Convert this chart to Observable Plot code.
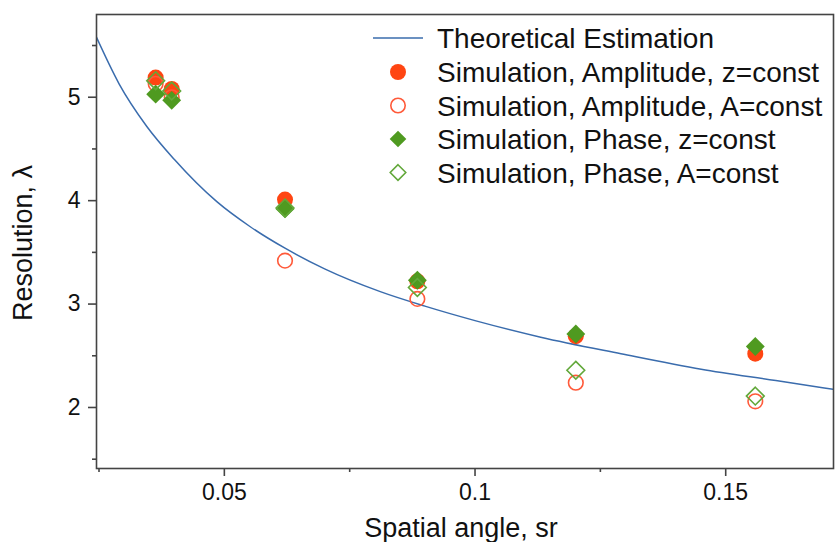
<!DOCTYPE html>
<html>
<head>
<meta charset="utf-8">
<script src="https://cdn.jsdelivr.net/npm/d3@7"></script>
<script src="https://cdn.jsdelivr.net/npm/@observablehq/plot@0.6"></script>
<style>
  html, body { margin: 0; padding: 0; background: #fff; }
  #chart { width: 835px; height: 542px; }
</style>
</head>
<body>
<div id="chart"></div>
<script>
// ---- data ----
const angles = [0.0363, 0.0395, 0.0621, 0.0885, 0.1201, 0.1559];
const ampZ   = [5.19, 5.08, 4.01, 3.22, 2.69, 2.52];
const ampA   = [5.13, 5.00, 3.42, 3.05, 2.24, 2.06];
const phaseZ = [5.03, 4.97, 3.92, 3.23, 2.71, 2.59];
const phaseA = [5.16, 5.06, 3.93, 3.16, 2.36, 2.11];

const theoryX = [0.0243, 0.0290, 0.0345, 0.0400, 0.0485, 0.0551, 0.0621, 0.0700, 0.0811, 0.0900, 0.1000, 0.1131, 0.1291, 0.1451, 0.1600, 0.1721];
const theoryY = [5.60, 5.13, 4.72, 4.40, 3.99, 3.75, 3.54, 3.34, 3.12, 2.98, 2.84, 2.68, 2.52, 2.37, 2.26, 2.17];

const xTicks = [0.05, 0.1, 0.15];
const xTickLabels = ["0.05", "0.1", "0.15"];
const xMinorTicks = [0.025, 0.075, 0.125];
const yTicks = [2, 3, 4, 5];
const yTickLabels = ["2", "3", "4", "5"];
const yMinorTicks = [1.5, 2.5, 3.5, 4.5, 5.5];

const xTitle = "Spatial angle, sr";
const yTitle = "Resolution, λ";
const seriesNames = [
  "Theoretical Estimation",
  "Simulation, Amplitude, z=const",
  "Simulation, Amplitude, A=const",
  "Simulation, Phase, z=const",
  "Simulation, Phase, A=const"
];

// ---- styles ----
const RED = "#ff4512", RED_OPEN = "#ff5a3a", GREEN = "#4f9a20", GREEN_OPEN = "#62a83a", BLUE = "#3a6cad", AXIS = "#444";
const FONT = "'Liberation Sans', Arial, sans-serif";

const pts = (ys) => angles.map((x, i) => ({x, y: ys[i]}));
const theory = theoryX.map((x, i) => ({x, y: theoryY[i]}));

const chart = Plot.plot({
  width: 835,
  height: 542,
  marginLeft: 96,
  marginRight: 2,
  marginTop: 14,
  marginBottom: 74,
  style: {fontFamily: FONT, fontSize: "23px", color: "#111", background: "#fff"},
  x: {domain: [0.0245, 0.1715]},
  y: {domain: [1.41, 5.8]},
  marks: [
    Plot.axisX({ticks: xTicks, tickSize: 8, tickPadding: 7, tickFormat: (d, i) => xTickLabels[i], label: null, stroke: AXIS, strokeWidth: 1.6, fontSize: 23}),
    Plot.axisX({ticks: xMinorTicks, tickSize: 4, tickFormat: null, text: null, label: null, stroke: AXIS, strokeWidth: 1.6}),
    Plot.axisY({ticks: yTicks, tickSize: 8, tickPadding: 8, tickFormat: (d, i) => yTickLabels[i], label: null, stroke: AXIS, strokeWidth: 1.6, fontSize: 23}),
    Plot.axisY({ticks: yMinorTicks, tickSize: 4, tickFormat: null, text: null, label: null, stroke: AXIS, strokeWidth: 1.6}),
    Plot.line(theory, {x: "x", y: "y", stroke: BLUE, strokeWidth: 1.5, curve: "monotone-x", clip: true}),
    Plot.dot(pts(ampZ), {x: "x", y: "y", symbol: "circle", r: 8, fill: RED, stroke: "none"}),
    Plot.dot(pts(ampA), {x: "x", y: "y", symbol: "circle", r: 7.3, fill: "none", stroke: RED_OPEN, strokeWidth: 1.6}),
    Plot.dot(pts(phaseZ), {x: "x", y: "y", symbol: "diamond2", r: 8.5, fill: GREEN, stroke: "none"}),
    Plot.dot(pts(phaseA), {x: "x", y: "y", symbol: "diamond2", r: 8, fill: "none", stroke: GREEN_OPEN, strokeWidth: 1.6}),
    Plot.frame({stroke: AXIS, strokeWidth: 1.6})
  ]
});

document.getElementById("chart").appendChild(chart);

// ---- axis titles and legend ----
const svg = d3.select(chart);
svg.append("text")
  .attr("x", 461).attr("y", 537)
  .attr("text-anchor", "middle")
  .style("font-family", FONT).style("font-size", "27px").attr("fill", "#111")
  .text(xTitle);
svg.append("text")
  .attr("transform", "translate(32,243) rotate(-90)")
  .attr("text-anchor", "middle")
  .style("font-family", FONT).style("font-size", "27px").attr("fill", "#111")
  .text(yTitle);

const lg = svg.append("g").style("font-family", FONT).style("font-size", "28px").attr("text-anchor", "start");
const rowY = [38, 72, 105.5, 139, 172.5];
const mx = 398;
lg.append("line").attr("x1", 373).attr("x2", 423).attr("y1", rowY[0]).attr("y2", rowY[0])
  .attr("stroke", BLUE).attr("stroke-width", 1.5);
const sym = (type, r) => d3.symbol(type, Math.PI * r * r)();
lg.append("path").attr("d", sym(d3.symbolCircle, 8)).attr("transform", `translate(${mx},${rowY[1]})`).attr("fill", RED);
lg.append("path").attr("d", sym(d3.symbolCircle, 7.2)).attr("transform", `translate(${mx},${rowY[2]})`).attr("fill", "none").attr("stroke", RED_OPEN).attr("stroke-width", 1.6);
lg.append("path").attr("d", sym(d3.symbolDiamond2, 7.5)).attr("transform", `translate(${mx},${rowY[3]})`).attr("fill", GREEN);
lg.append("path").attr("d", sym(d3.symbolDiamond2, 7)).attr("transform", `translate(${mx},${rowY[4]})`).attr("fill", "none").attr("stroke", GREEN_OPEN).attr("stroke-width", 1.6);
seriesNames.forEach((name, i) => {
  lg.append("text").attr("x", 437).attr("y", rowY[i] + 10).attr("text-anchor", "start").attr("fill", "#111").text(name);
});
</script>
</body>
</html>
